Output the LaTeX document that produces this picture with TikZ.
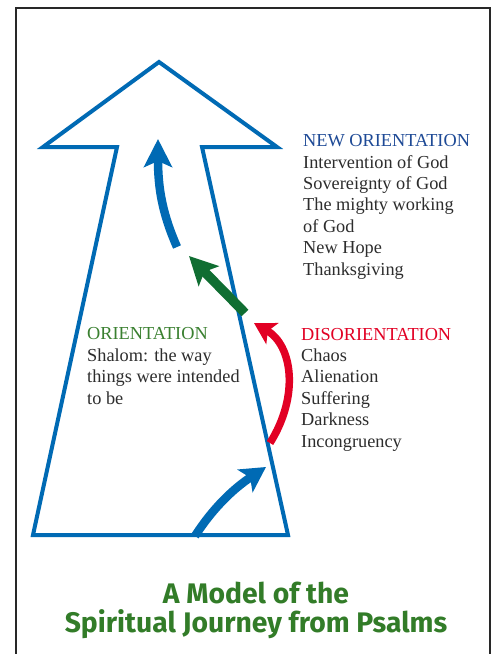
\documentclass[tikz,border=0pt]{standalone}
\usepackage{fontspec}
\setmainfont{Liberation Serif}
\newfontfamily\titlefont{Fira Sans}
\usetikzlibrary{arrows.meta}
\definecolor{arrowblue}{RGB}{0,106,180}
\definecolor{arrowred}{RGB}{226,0,36}
\definecolor{arrowgreen}{RGB}{16,110,50}
\definecolor{titlegreen}{RGB}{50,124,40}
\definecolor{orgreen}{RGB}{58,128,48}
\definecolor{navy}{RGB}{30,74,150}
\definecolor{bodygray}{RGB}{45,45,45}
\definecolor{framegray}{RGB}{40,40,40}
\tikzset{
  outline/.style={draw=arrowblue,line width=4pt,line join=miter},
  journey/.style={line width=8.5pt},
  block/.style={inner sep=0pt,align=left,anchor=base west,text=bodygray,
    font=\fontsize{18.3}{21.4}\selectfont},
  titletext/.style={inner sep=0pt,align=center,text=titlegreen,
    font=\titlefont\bfseries\fontsize{28.3}{29}\selectfont},
}
\begin{document}
\begin{tikzpicture}[x=1pt,y=-1pt]
\useasboundingbox (0,0) rectangle (494,654);
\fill[white] (0,0) rectangle (494,654);
% frame
\draw[framegray,line width=2pt] (16,700) -- (16,8) -- (490,8) -- (490,700);
% big arrow outline
\draw[outline] (159,62) -- (277,147) -- (202,147) -- (288,535) -- (33,535)
  -- (117,147) -- (43,147) -- cycle;
% coordinates of the journey arrows
\coordinate (b1s) at (195,536);
\coordinate (b1e) at (266,467);
\coordinate (rs) at (270,443);
\coordinate (re) at (254,323);
\coordinate (gs) at (245,313);
\coordinate (ge) at (189,256);
\coordinate (b2s) at (177,247);
\coordinate (b2e) at (158,139);
% journey arrows
\draw[arrowblue,journey,-{Stealth[length=25pt,width=27pt,inset=6pt]}]
  (b1s) .. controls (215,505) and (236,487) .. (b1e);
\draw[arrowred,line width=7.5pt,-{Stealth[length=21pt,width=24pt,inset=5pt]}]
  (rs) .. controls (300,395) and (292,345) .. (re);
\draw[arrowgreen,line width=9.5pt,-{Stealth[length=28pt,width=28pt,inset=6pt]}]
  (gs) -- (ge);
\draw[arrowblue,journey,-{Stealth[length=28pt,width=28pt,inset=6pt]}]
  (b2s) .. controls (163,215) and (158,190) .. (b2e);
% texts (base anchor = baseline of last line)
\node[block] (newor) at (303,275) {\textcolor{navy}{NEW ORIENTATION}\\
  Intervention of God\\ Sovereignty of God\\ The mighty working\\ of God\\
  New Hope\\ Thanksgiving};
\node[block] (disor) at (301,447) {\textcolor{arrowred}{DISORIENTATION}\\
  Chaos\\ Alienation\\ Suffering\\ Darkness\\ Incongruency};
\node[block] (orient) at (87,404) {\textcolor{orgreen}{ORIENTATION}\\
  Shalom: the way\\ things were intended\\ to be};
\node[titletext,anchor=base] (title) at (256,632) {A Model of the\\
  Spiritual Journey from Psalms};
\end{tikzpicture}
\end{document}
